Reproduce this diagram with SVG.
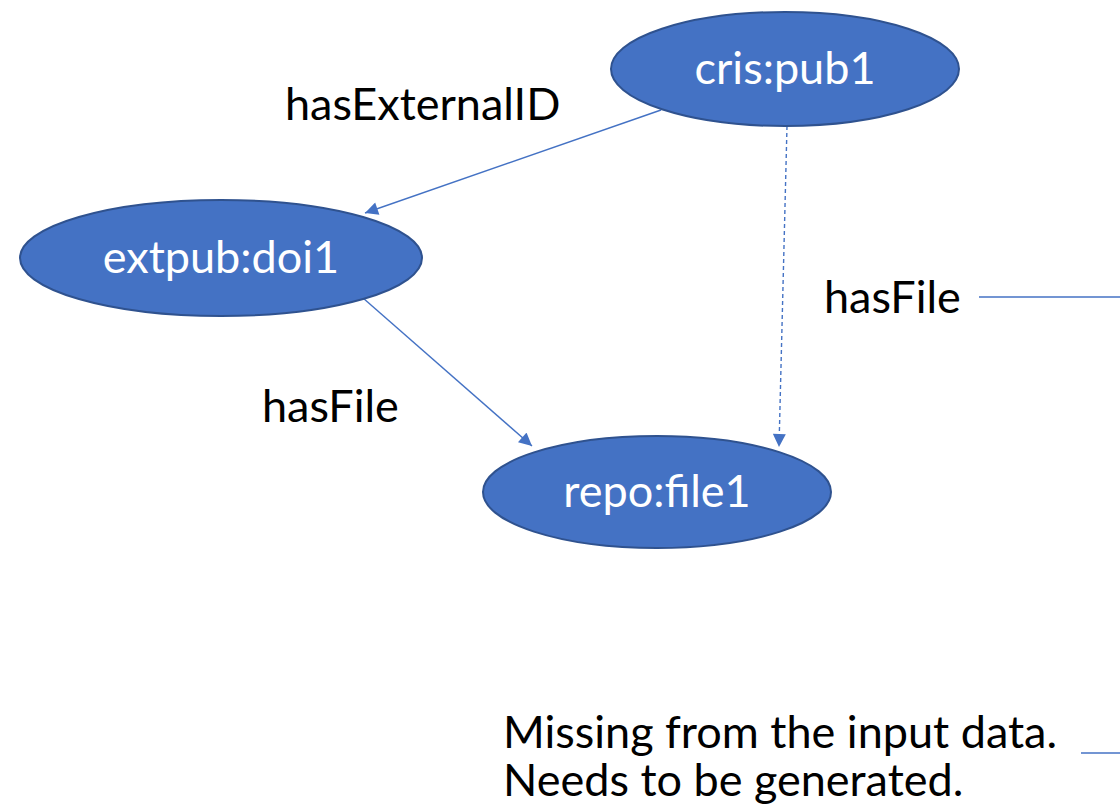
<svg xmlns="http://www.w3.org/2000/svg" width="1120" height="804" viewBox="0 0 1120 804">
  <style>
    .node { fill: #4472C4; stroke: #2F528F; stroke-width: 2; }
    .ntxt { fill: #ffffff; font-family: Lato, "Open Sans", sans-serif; font-size: 45px; text-anchor: middle; }
    .lbl { fill: #000000; font-family: Lato, "Open Sans", sans-serif; font-size: 45px; }
    .edge { stroke: #4472C4; stroke-width: 1.4; fill: none; }
    .dash { stroke-dasharray: 4 3; }
  </style>
  <defs>
    <marker id="arrow" viewBox="0 0 10 10" refX="10" refY="5" markerWidth="14" markerHeight="13" markerUnits="userSpaceOnUse" orient="auto">
      <path d="M0,0 L10,5 L0,10 z" fill="#4472C4"/>
    </marker>
  </defs>

  <!-- connectors -->
  <g id="connectors">
    <line class="edge" x1="661" y1="110" x2="365" y2="213" marker-end="url(#arrow)"/>
    <line class="edge" x1="363" y1="298" x2="532" y2="446" marker-end="url(#arrow)"/>
    <line class="edge dash" x1="787" y1="126" x2="779" y2="447" marker-end="url(#arrow)"/>
    <line class="edge" x1="979" y1="297" x2="1120" y2="297"/>
    <line class="edge" x1="1081" y1="753" x2="1120" y2="753"/>
  </g>

  <!-- nodes -->
  <g id="cris-pub1">
    <ellipse class="node" cx="785" cy="69" rx="174" ry="57"/>
    <text class="ntxt" x="785" y="84">cris:pub1</text>
  </g>
  <g id="extpub-doi1">
    <ellipse class="node" cx="221" cy="258" rx="201" ry="58"/>
    <text class="ntxt" x="221" y="273">extpub:doi1</text>
  </g>
  <g id="repo-file1">
    <ellipse class="node" cx="657" cy="492" rx="174" ry="56"/>
    <text class="ntxt" x="657" y="507">repo:file1</text>
  </g>

  <!-- edge labels -->
  <g id="labels">
    <text class="lbl" x="285" y="120">hasExternalID</text>
    <text class="lbl" x="262" y="422">hasFile</text>
    <text class="lbl" x="824" y="313">hasFile</text>
    <text class="lbl"><tspan x="503" y="748">Missing from the input data.</tspan><tspan x="503" y="796">Needs to be generated.</tspan></text>
  </g>
</svg>
